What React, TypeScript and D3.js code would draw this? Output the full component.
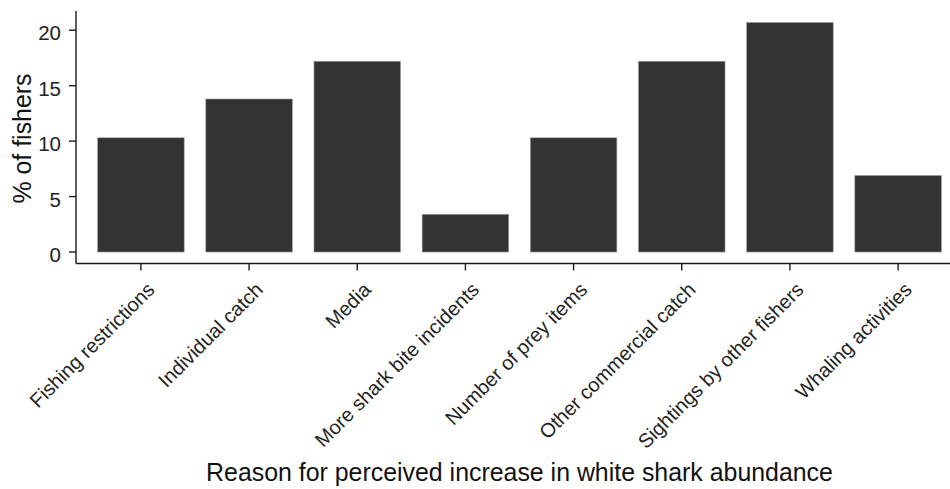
import React from "react";
import * as d3 from "d3";

const categories = [
  "Fishing restrictions",
  "Individual catch",
  "Media",
  "More shark bite incidents",
  "Number of prey items",
  "Other commercial catch",
  "Sightings by other fishers",
  "Whaling activities",
];
const values = [10.3, 13.8, 17.2, 3.4, 10.3, 17.2, 20.7, 6.9];
const yTicks = [0, 5, 10, 15, 20];
const xTitle = "Reason for perceived increase in white shark abundance";
const yTitle = "% of fishers";

const W = 950;
const H = 489;
const FONT = "'Liberation Sans', Arial, sans-serif";

export default function App() {
  const x = d3
    .scaleBand<string>()
    .domain(categories)
    .range([76, 963])
    .paddingInner(0.2)
    .paddingOuter(0.2);
  const y = d3.scaleLinear().domain([-1.035, 21.735]).range([263.5, 11]);
  const axisColor = "#1a1a1a";
  const tickColor = "#222";

  return (
    <svg
      width={W}
      height={H}
      style={{ position: "absolute", left: 0, top: 0, background: "#fff" }}
      fontFamily={FONT}
    >
      {categories.map((c, i) => (
        <rect
          key={c}
          x={x(c)}
          y={y(values[i])}
          width={x.bandwidth()}
          height={y(0) - y(values[i])}
          fill="#333333"
          stroke="#9a9a9a"
          strokeWidth={0.6}
        />
      ))}
      {/* y axis */}
      <line x1={76} x2={76} y1={y.range()[1]} y2={y.range()[0]} stroke={axisColor} strokeWidth={1.4} />
      {yTicks.map((t) => (
        <g key={t}>
          <line x1={69} x2={76} y1={y(t)} y2={y(t)} stroke={axisColor} strokeWidth={1.4} />
          <text x={61} y={y(t) + 10} textAnchor="end" fontSize={20.5} fill={tickColor}>
            {t}
          </text>
        </g>
      ))}
      {/* x axis */}
      <line x1={76} x2={963} y1={263.5} y2={263.5} stroke={axisColor} strokeWidth={1.4} />
      {categories.map((c) => {
        const cx = (x(c) as number) + x.bandwidth() / 2;
        return (
          <g key={c}>
            <line x1={cx} x2={cx} y1={263.5} y2={270.5} stroke={axisColor} strokeWidth={1.4} />
            <text
              transform={`translate(${cx + 15},${291}) rotate(-45)`}
              textAnchor="end"
              fontSize={20}
              fill={tickColor}
            >
              {c}
            </text>
          </g>
        );
      })}
      <text x={519.5} y={481} textAnchor="middle" fontSize={24.9} fill="#111">
        {xTitle}
      </text>
      <text
        transform={`translate(31,138.5) rotate(-90)`}
        textAnchor="middle"
        fontSize={24.9}
        fill="#111"
      >
        {yTitle}
      </text>
    </svg>
  );
}
